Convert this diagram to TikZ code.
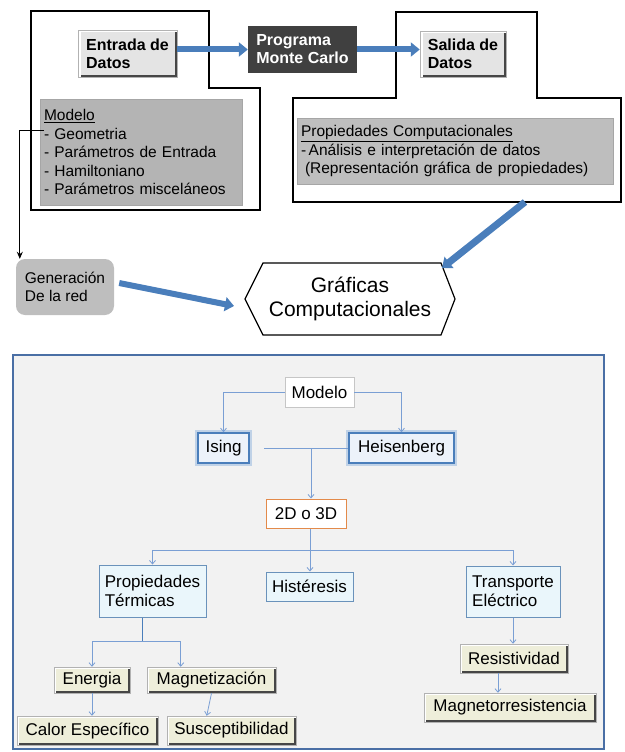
\documentclass[tikz,border=0pt]{standalone}
\usepackage{fontspec}
\setmainfont{Liberation Sans}
\usetikzlibrary{arrows.meta}
\definecolor{barrow}{RGB}{74,126,187}
\definecolor{boxgray}{RGB}{180,180,180}
\definecolor{boxgray2}{RGB}{190,190,190}
\definecolor{lightgray}{RGB}{228,228,228}
\definecolor{darkbox}{RGB}{64,64,64}
\definecolor{panelfill}{RGB}{242,242,242}
\definecolor{panelline}{RGB}{74,111,165}
\definecolor{cyanfill}{RGB}{234,246,251}
\definecolor{cyanline}{RGB}{106,146,187}
\definecolor{beige}{RGB}{238,238,218}
\definecolor{orangeline}{RGB}{227,138,74}
\definecolor{connc}{RGB}{122,159,212}
\definecolor{glowfill}{RGB}{236,242,250}
\newcommand\fsz[2]{\fontsize{#1}{#2}\selectfont}
\begin{document}
\begin{tikzpicture}[x=1pt,y=-1pt,
  bevel/.style={path picture={
    \draw[line width=#1, gray!55!black] (path picture bounding box.south west) -- (path picture bounding box.south east) -- (path picture bounding box.north east);
    \draw[line width=#1, white] (path picture bounding box.south west) -- (path picture bounding box.north west) -- (path picture bounding box.north east);}},
  topbevel/.style={bevel=5pt, fill=lightgray, draw=gray!60, line width=0.5pt, inner sep=0pt, align=left, font=\bfseries\fsz{16}{18}},
  lowbevel/.style={bevel=4pt, fill=beige, draw=gray!60, line width=0.5pt, inner sep=0pt, font=\fsz{17}{19}},
  graybox/.style={fill=boxgray, draw=gray!70, line width=0.6pt, inner sep=0pt, align=left, font=\fsz{15.5}{18.5}},
  outline/.style={draw=black, line width=1.3pt},
  bluearrow/.style={draw=barrow, line width=6pt, -{Triangle[length=9pt,width=14pt]}},
  cyanbox/.style={fill=cyanfill, draw=cyanline, line width=1pt, inner sep=0pt, align=left, font=\fsz{17}{19}},
  glowbox/.style={preaction={draw=barrow!35, line width=6pt}, fill=glowfill, draw=barrow, line width=1.6pt, inner sep=0pt, font=\fsz{17}{19}},
  conn/.style={draw=connc, line width=0.8pt, -{Straight Barb[length=3.5pt,width=6pt]}},
  connl/.style={draw=connc, line width=0.8pt}
]
\useasboundingbox (0,0) rectangle (624,752);

% ---- top part: outlines ----
\draw[outline] (31,11) -- (209,11) -- (209,88) -- (260,88) -- (260,210) -- (31,210) -- cycle;
\draw[outline] (293,98) -- (396,98) -- (396,12) -- (537,12) -- (537,98) -- (621,98) -- (621,202) -- (293,202) -- cycle;

% ---- top nodes ----
\node[topbevel, minimum width=99pt, minimum height=47pt] (entrada) at (127.5,53.5) {Entrada de\\Datos};
\node[fill=darkbox, text=white, inner sep=0pt, minimum width=109pt, minimum height=47pt, align=left, font=\bfseries\fsz{16}{18}] (programa) at (302.5,49.5) {Programa\\Monte Carlo};
\node[topbevel, minimum width=86pt, minimum height=46pt] (salida) at (463,54) {Salida de\\Datos};

\node[graybox, minimum width=202pt, minimum height=106pt, text width=194pt] (modelo) at (141,152)
  {\underline{Modelo}\\- Geometria\\- Parámetros de Entrada\\- Hamiltoniano\\- Parámetros misceláneos};
\node[graybox, fill=boxgray2, minimum width=316pt, minimum height=66pt, text width=308pt] (propcomp) at (455,151)
  {\underline{Propiedades Computacionales}\\-\,Análisis e interpretación de datos\\\hspace{4pt}(Representación gráfica de propiedades)};

\node[fill=boxgray2, rounded corners=9pt, inner sep=0pt, minimum width=98pt, minimum height=56pt, align=left, font=\fsz{15.5}{18}] (gen) at (65,287) {Generación\\De la red};

% hexagon
\draw[line width=1.2pt, fill=white] (245,299) -- (263,263) -- (441,263) -- (455,299) -- (441,335) -- (263,335) -- cycle;
\node[align=center, font=\fsz{21}{23.5}, inner sep=0pt] (graf) at (350,299) {Gráficas\\Computacionales};

% top connectors
\draw[bluearrow] (entrada.east |- programa.west) -- (programa.west);
\draw[bluearrow] (programa.east) -- (programa.east -| salida.west);
\coordinate (geo) at (44,130);
\draw[line width=1pt, -{Stealth[length=7pt,width=6pt]}] (geo) -| ([xshift=4pt]gen.north west);
\coordinate (hexin) at (234,306);
\draw[bluearrow] ([xshift=5pt,yshift=4pt]gen.east) -- (hexin);
\coordinate (rb) at (525,202);
\coordinate (hexr) at (442,268);
\draw[bluearrow, line width=7pt] (rb) -- (hexr);

% ---- bottom panel ----
\draw[fill=panelfill, draw=panelline, line width=1.3pt] (13,355) rectangle (604,749);

\node[fill=white, draw=gray!45, line width=0.8pt, inner sep=0pt, minimum width=69pt, minimum height=30pt, font=\fsz{17}{19}] (modelo2) at (319.5,392) {Modelo};
\node[glowbox, minimum width=51pt, minimum height=30pt] (ising) at (223.5,448) {Ising};
\node[glowbox, minimum width=105pt, minimum height=30pt] (heis) at (401.5,448) {Heisenberg};
\node[fill=white, draw=orangeline, line width=1pt, inner sep=0pt, minimum width=80pt, minimum height=29pt, font=\fsz{17}{19}] (dim) at (306,513.5) {2D o 3D};

\node[cyanbox, minimum width=107pt, minimum height=52pt] (propterm) at (152.5,591) {Propiedades\\Térmicas};
\node[cyanbox, minimum width=87pt, minimum height=29pt] (hist) at (309.5,586.5) {Histéresis};
\node[cyanbox, minimum width=94pt, minimum height=51pt] (transp) at (513,591.5) {Transporte\\Eléctrico};

\node[lowbevel, minimum width=76pt, minimum height=26pt] (energia) at (92,680) {Energia};
\node[lowbevel, minimum width=129pt, minimum height=26pt] (magnet) at (211.5,680) {Magnetización};
\node[lowbevel, minimum width=141pt, minimum height=29pt] (calor) at (87.5,730.5) {Calor Específico};
\node[lowbevel, minimum width=129pt, minimum height=29pt] (suscept) at (231.5,730.5) {Susceptibilidad};
\node[lowbevel, minimum width=108pt, minimum height=29pt] (resist) at (514,658.5) {Resistividad};
\node[lowbevel, minimum width=172pt, minimum height=29pt] (magres) at (510,707.5) {Magnetorresistencia};

% bottom connectors
\draw[conn] (modelo2.west) -| (ising.north);
\draw[conn] (modelo2.east) -| (heis.north);
\coordinate (j1) at (264,448);
\coordinate (j2) at (311,448);
\draw[connl] (j1) -- (heis.west);
\draw[conn] (j2) -- (j2 |- dim.north);
\coordinate (j3) at (310,550);
\draw[connl] (j3 |- dim.south) -- (j3);
\draw[conn] (j3) -- (j3 |- hist.north);
\draw[conn] (j3) -| (propterm.north);
\draw[conn] (j3) -| (transp.north);
\coordinate (j4) at (142,641);
\draw[connl, draw=barrow, line width=1pt] (j4 |- propterm.south) -- (j4);
\draw[conn] (j4) -| (energia.north);
\draw[conn] (j4) -| ([xshift=34pt]magnet.north west);
\draw[conn] (energia.south) -- (energia.south |- calor.north);
\draw[conn] (magnet.south) -- ([xshift=40pt]suscept.north west);
\draw[conn] (transp.south) -- (transp.south |- resist.north);
\draw[conn] ([xshift=-16pt]resist.south) -- ([xshift=-12pt]magres.north);
\end{tikzpicture}
\end{document}
